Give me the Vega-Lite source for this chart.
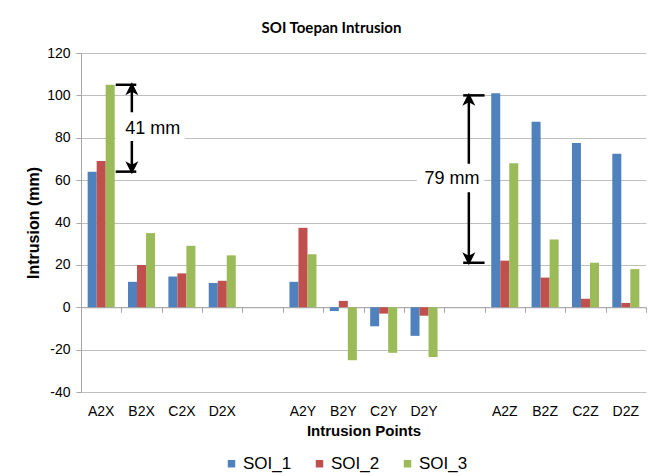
{
  "$schema": "https://vega.github.io/schema/vega-lite/v6.json",
  "description": "SOI toepan intrusion per measurement point, three tests, with dimension callouts for the X and Z spreads.",
  "autosize": "none",
  "width": 565,
  "height": 339,
  "padding": {"left": 81, "top": 53, "right": 8, "bottom": 84},
  "background": "white",
  "title": {
    "text": "SOI Toepan Intrusion",
    "font": "Lato",
    "fontSize": 15,
    "fontWeight": "bold",
    "color": "#000000",
    "anchor": "middle",
    "dx": -32,
    "offset": 10
  },
  "config": {"view": {"stroke": null}},
  "datasets": {
    "intrusion": [
      {"point": "A2X", "series": "SOI_1", "value": 64},
      {"point": "A2X", "series": "SOI_2", "value": 69},
      {"point": "A2X", "series": "SOI_3", "value": 105},
      {"point": "B2X", "series": "SOI_1", "value": 12},
      {"point": "B2X", "series": "SOI_2", "value": 20},
      {"point": "B2X", "series": "SOI_3", "value": 35},
      {"point": "C2X", "series": "SOI_1", "value": 14.5},
      {"point": "C2X", "series": "SOI_2", "value": 16},
      {"point": "C2X", "series": "SOI_3", "value": 29},
      {"point": "D2X", "series": "SOI_1", "value": 11.5},
      {"point": "D2X", "series": "SOI_2", "value": 12.5},
      {"point": "D2X", "series": "SOI_3", "value": 24.5},
      {"point": "A2Y", "series": "SOI_1", "value": 12},
      {"point": "A2Y", "series": "SOI_2", "value": 37.5},
      {"point": "A2Y", "series": "SOI_3", "value": 25},
      {"point": "B2Y", "series": "SOI_1", "value": -1.8},
      {"point": "B2Y", "series": "SOI_2", "value": 3},
      {"point": "B2Y", "series": "SOI_3", "value": -25},
      {"point": "C2Y", "series": "SOI_1", "value": -9},
      {"point": "C2Y", "series": "SOI_2", "value": -3},
      {"point": "C2Y", "series": "SOI_3", "value": -21.5},
      {"point": "D2Y", "series": "SOI_1", "value": -13.5},
      {"point": "D2Y", "series": "SOI_2", "value": -4},
      {"point": "D2Y", "series": "SOI_3", "value": -23.5},
      {"point": "A2Z", "series": "SOI_1", "value": 101},
      {"point": "A2Z", "series": "SOI_2", "value": 22},
      {"point": "A2Z", "series": "SOI_3", "value": 68},
      {"point": "B2Z", "series": "SOI_1", "value": 87.5},
      {"point": "B2Z", "series": "SOI_2", "value": 14},
      {"point": "B2Z", "series": "SOI_3", "value": 32},
      {"point": "C2Z", "series": "SOI_1", "value": 77.5},
      {"point": "C2Z", "series": "SOI_2", "value": 4},
      {"point": "C2Z", "series": "SOI_3", "value": 21},
      {"point": "D2Z", "series": "SOI_1", "value": 72.5},
      {"point": "D2Z", "series": "SOI_2", "value": 2},
      {"point": "D2Z", "series": "SOI_3", "value": 18}
    ],
    "dims": [
      {"label": "41 mm", "at": 1.26, "top": 105, "bottom": 64, "capFrom": 0.86, "capTo": 1.37, "gapFrom": 0.86, "gapTo": 2.57, "gapLow": 78.5, "gapHigh": 92, "textAt": 1.78, "textY": 84},
      {"label": "79 mm", "at": 9.61, "top": 100, "bottom": 21, "capFrom": 9.47, "capTo": 10.0, "gapFrom": 8.32, "gapTo": 9.99, "gapLow": 54.3, "gapHigh": 67.7, "textAt": 9.19, "textY": 60.5}
    ]
  },
  "layer": [
    {
      "data": {"name": "intrusion"},
      "mark": {"type": "bar"},
      "encoding": {
        "x": {
          "field": "point",
          "type": "nominal",
          "scale": {
            "domain": ["A2X", "B2X", "C2X", "D2X", " ", "A2Y", "B2Y", "C2Y", "D2Y", "  ", "A2Z", "B2Z", "C2Z", "D2Z"],
            "paddingInner": 0.33,
            "paddingOuter": 0.165
          },
          "axis": {
            "title": "Intrusion Points",
            "orient": "bottom",
            "labelAngle": 0,
            "ticks": false,
            "domain": false,
            "grid": false,
            "labelPadding": 12,
            "labelFont": "Liberation Sans",
            "labelFontSize": 14,
            "labelColor": "#000000",
            "titleFont": "Liberation Sans",
            "titleFontSize": 15,
            "titleFontWeight": "bold",
            "titleColor": "#000000",
            "titlePadding": 5
          }
        },
        "xOffset": {
          "field": "series",
          "type": "nominal",
          "scale": {"domain": ["SOI_1", "SOI_2", "SOI_3"], "paddingInner": 0, "paddingOuter": 0}
        },
        "y": {
          "field": "value",
          "type": "quantitative",
          "scale": {"domain": [-40, 120], "nice": false, "zero": false},
          "axis": {
            "title": "Intrusion (mm)",
            "values": [-40, -20, 0, 20, 40, 60, 80, 100, 120],
            "labelExpr": "'' + datum.value",
            "grid": true,
            "gridColor": "#BFBFBF",
            "gridWidth": 1,
            "domain": true,
            "domainColor": "#A6A6A6",
            "ticks": true,
            "tickColor": "#A6A6A6",
            "tickSize": 5,
            "labelPadding": 6,
            "labelFont": "Liberation Sans",
            "labelFontSize": 14,
            "labelColor": "#000000",
            "titleFont": "Liberation Sans",
            "titleFontSize": 16,
            "titleFontWeight": "bold",
            "titleColor": "#000000",
            "titlePadding": 5
          }
        },
        "color": {
          "field": "series",
          "type": "nominal",
          "scale": {"domain": ["SOI_1", "SOI_2", "SOI_3"], "range": ["#4F81BD", "#C0504D", "#9BBB59"]},
          "legend": {
            "title": null,
            "orient": "none",
            "legendX": 142,
            "legendY": 402,
            "direction": "horizontal",
            "symbolType": "square",
            "symbolSize": 56,
            "symbolStrokeWidth": 0,
            "labelFont": "Liberation Sans",
            "labelFontSize": 17,
            "labelColor": "#000000",
            "labelOffset": 3,
            "columnPadding": 19,
            "padding": 0
          }
        }
      }
    },
    {
      "data": {"name": "dims"},
      "layer": [
        {
          "mark": {"type": "rule", "strokeWidth": 2.5, "color": "#000000"},
          "encoding": {
            "x": {
              "field": "at",
              "type": "quantitative",
              "scale": {"domain": [0, 14], "nice": false, "zero": false},
              "axis": {
                "orient": "bottom",
                "offset": -84.75,
                "values": [0, 1, 2, 3, 4, 5, 6, 7, 8, 9, 10, 11, 12, 13, 14],
                "labels": false,
                "grid": false,
                "title": null,
                "domain": true,
                "ticks": true,
                "tickSize": 5,
                "tickColor": "#A6A6A6",
                "domainColor": "#A6A6A6"
              }
            },
            "y": {"field": "top", "type": "quantitative"},
            "y2": {"field": "bottom"}
          }
        },
        {
          "mark": {"type": "rect", "color": "#FFFFFF"},
          "encoding": {
            "x": {"field": "gapFrom", "type": "quantitative"},
            "x2": {"field": "gapTo"},
            "y": {"field": "gapLow", "type": "quantitative"},
            "y2": {"field": "gapHigh"}
          }
        },
        {
          "mark": {"type": "rule", "strokeWidth": 2.5, "color": "#000000"},
          "encoding": {
            "x": {"field": "capFrom", "type": "quantitative"},
            "x2": {"field": "capTo"},
            "y": {"field": "top", "type": "quantitative"}
          }
        },
        {
          "mark": {"type": "rule", "strokeWidth": 2.5, "color": "#000000"},
          "encoding": {
            "x": {"field": "capFrom", "type": "quantitative"},
            "x2": {"field": "capTo"},
            "y": {"field": "bottom", "type": "quantitative"}
          }
        },
        {
          "mark": {"type": "point", "shape": "M0,-0.3L0.75,1.2L0,0.8L-0.75,1.2Z", "size": 300, "filled": true, "color": "#000000", "opacity": 1, "strokeWidth": 0},
          "encoding": {
            "x": {"field": "at", "type": "quantitative"},
            "y": {"field": "top", "type": "quantitative"}
          }
        },
        {
          "mark": {"type": "point", "shape": "M0,0.3L0.75,-1.2L0,-0.8L-0.75,-1.2Z", "size": 300, "filled": true, "color": "#000000", "opacity": 1, "strokeWidth": 0},
          "encoding": {
            "x": {"field": "at", "type": "quantitative"},
            "y": {"field": "bottom", "type": "quantitative"}
          }
        },
        {
          "mark": {"type": "text", "font": "Liberation Sans", "fontSize": 18, "color": "#000000", "align": "center", "baseline": "middle"},
          "encoding": {
            "x": {"field": "textAt", "type": "quantitative"},
            "y": {"field": "textY", "type": "quantitative"},
            "text": {"field": "label"}
          }
        }
      ]
    }
  ],
  "resolve": {"scale": {"x": "independent"}, "axis": {"x": "independent"}}
}
